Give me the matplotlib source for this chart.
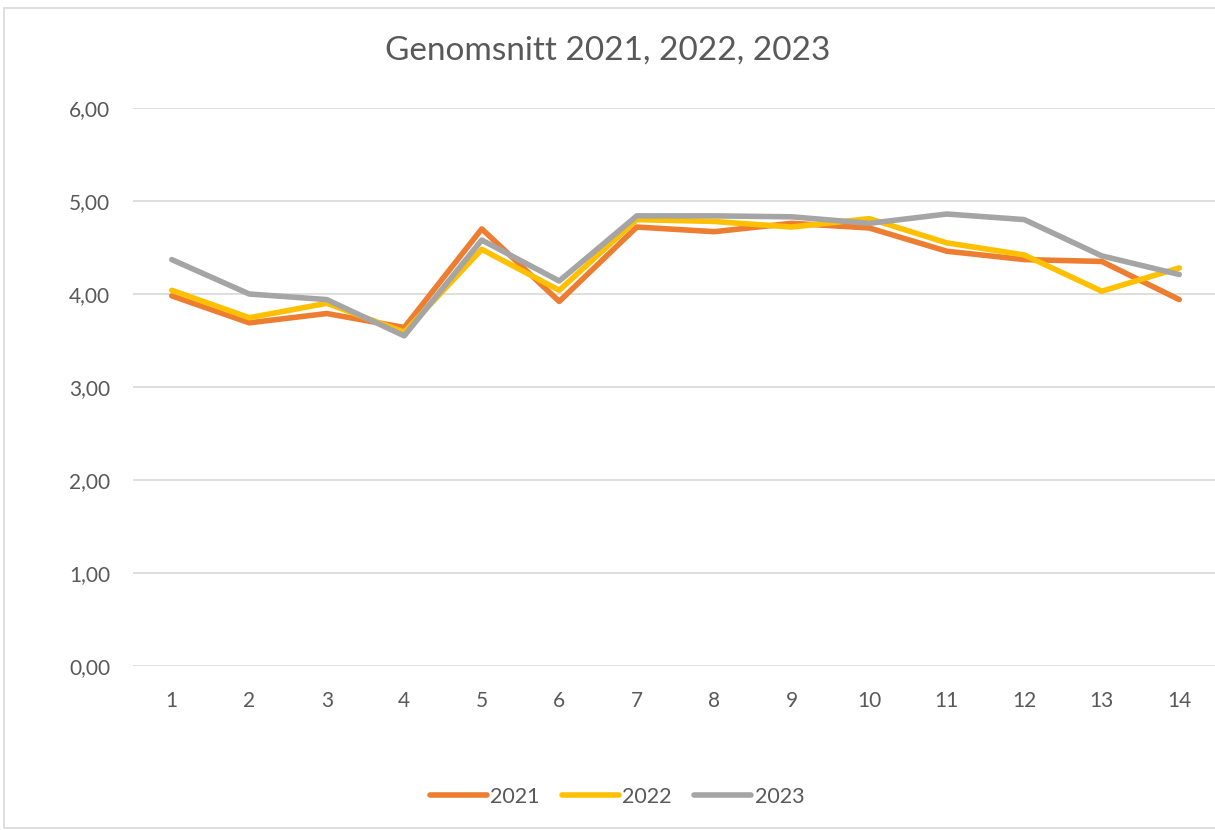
import matplotlib.pyplot as plt
from matplotlib.patches import Rectangle

# Data
categories = list(range(1, 15))
y2021 = [3.98, 3.69, 3.79, 3.64, 4.70, 3.92, 4.72, 4.67, 4.76, 4.71, 4.46, 4.37, 4.35, 3.94]
y2022 = [4.04, 3.745, 3.90, 3.59, 4.48, 4.04, 4.80, 4.78, 4.72, 4.81, 4.55, 4.42, 4.03, 4.28]
y2023 = [4.37, 4.00, 3.94, 3.55, 4.58, 4.14, 4.84, 4.84, 4.83, 4.76, 4.86, 4.80, 4.41, 4.21]
series = [("2021", y2021, "#ED7D31"), ("2022", y2022, "#FFC000"), ("2023", y2023, "#A5A5A5")]
yticks = [0, 1, 2, 3, 4, 5, 6]

plt.rcParams['font.family'] = ['Lato', 'DejaVu Sans']
text_col = "#595959"

fig = plt.figure(figsize=(12.15, 8.3), dpi=100)
fig.patches.append(Rectangle((4 / 1215, 2 / 830), 1.0, 820 / 830, transform=fig.transFigure,
                             fill=False, edgecolor="#D9D9D9", linewidth=1.2))

ax = fig.add_axes([133 / 1215, 1 - 666 / 830, (1218 - 133) / 1215, (666 - 108) / 830])
for name, vals, col in series:
    ax.plot(categories, vals, color=col, linewidth=4.0, label=name, solid_capstyle='round')

ax.set_xlim(0.5, 14.5)
ax.set_ylim(0, 6)
ax.set_yticks(yticks)
ax.set_yticklabels([f"{v:.2f}".replace(".", ",") for v in yticks])
ax.set_xticks(categories)
ax.grid(axis='y', color="#D9D9D9", linewidth=1.2)
ax.set_axisbelow(True)
for s in ax.spines.values():
    s.set_visible(False)
ax.tick_params(axis='both', length=0, labelsize=15, colors=text_col)
ax.tick_params(axis='y', pad=16.5)
ax.tick_params(axis='x', pad=18)

fig.text(0.5, 1 - 51 / 830, "Genomsnitt 2021, 2022, 2023", ha='center', va='center',
         fontsize=24, color=text_col)

leg = fig.legend(loc='center', bbox_to_anchor=(617 / 1215, 1 - 797 / 830), ncol=3, frameon=False,
                 fontsize=15.5, handlelength=2.65, handletextpad=0.15, columnspacing=1.05)
for t in leg.get_texts():
    t.set_color(text_col)

fig.savefig("out.png", dpi=100)
